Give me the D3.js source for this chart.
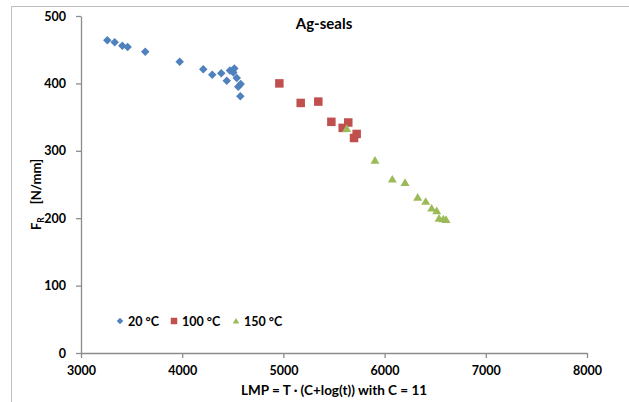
<!DOCTYPE html>
<html>
<head>
<meta charset="utf-8">
<script src="https://cdn.jsdelivr.net/npm/d3@7"></script>
<style>
  html, body { margin: 0; padding: 0; background: #fff; }
  svg text { font-family: Lato, "Open Sans", sans-serif; font-weight: bold; fill: #000; }
</style>
</head>
<body>
<svg id="chart" width="629" height="402"></svg>
<script>
// Residual load F_R against the Larson–Miller parameter, per test temperature
const lmp20  = [3260, 3333, 3408, 3461, 3635, 3975, 4208, 4297, 4386, 4440, 4472, 4505, 4515, 4539, 4578, 4554, 4574];
const fr20   = [464, 461, 456, 454, 447, 432, 421, 413, 415, 404, 419, 416, 422, 408, 399, 395, 381];
const lmp100 = [4960, 5171, 5345, 5474, 5586, 5641, 5698, 5724];
const fr100  = [400, 371, 373, 343, 334, 342, 319, 325];
const lmp150 = [5625, 5905, 6076, 6202, 6327, 6406, 6465, 6515, 6538, 6580, 6607];
const fr150  = [333, 286, 258, 253, 231, 225, 215, 211, 200, 199, 198];

const seriesNames = ["20 °C", "100 °C", "150 °C"];
const xTicks = [3000, 4000, 5000, 6000, 7000, 8000];
const yTicks = [0, 100, 200, 300, 400, 500];

const colors = ["#4F81BD", "#C0504D", "#9BBB59"];
const shapes = ["diamond", "square", "triangle"];

const svg = d3.select("#chart");
const W = 629, H = 402;
const plot = { left: 81, right: 587, top: 16, bottom: 353 };

svg.append("rect").attr("width", W).attr("height", H).attr("fill", "#fff");

// chart-area frame (left and top edges)
svg.append("path")
  .attr("d", `M11.5,${H} V6.5 H${W}`)
  .attr("fill", "none").attr("stroke", "#bdbdbd").attr("stroke-width", 1);

const x = d3.scaleLinear().domain([3000, 8000]).range([plot.left, plot.right]);
const y = d3.scaleLinear().domain([0, 500]).range([plot.bottom, plot.top]);

const axisColor = "#8c8c8c";

const gx = svg.append("g").attr("transform", `translate(0,${plot.bottom})`)
  .call(d3.axisBottom(x).tickValues(xTicks).tickFormat(d3.format("d")).tickSize(5).tickPadding(8).tickSizeOuter(0));
const gy = svg.append("g").attr("transform", `translate(${plot.left},0)`)
  .call(d3.axisLeft(y).tickValues(yTicks).tickFormat(d3.format("d")).tickSize(5).tickPadding(10).tickSizeOuter(0));

[gx, gy].forEach(g => {
  g.select(".domain").attr("stroke", axisColor).attr("stroke-width", 1.3);
  g.selectAll(".tick line").attr("stroke", axisColor).attr("stroke-width", 1.3);
  g.selectAll(".tick text").style("font-size", "12.5px").style("font-weight", "bold")
    .style("font-family", "Lato, sans-serif").attr("fill", "#000");
});

// marker outlines centred on (0,0), w = overall width in px
function markerPath(shape, w) {
  const h = w / 2;
  if (shape === "diamond") return `M0,${-h} L${h},0 L0,${h} L${-h},0 Z`;
  if (shape === "square") return `M${-h},${-h} H${h} V${h} H${-h} Z`;
  const th = w * 0.85;
  return `M0,${-th * 0.55} L${h},${th * 0.45} L${-h},${th * 0.45} Z`;
}

const series = [
  { xs: lmp20,  ys: fr20 },
  { xs: lmp100, ys: fr100 },
  { xs: lmp150, ys: fr150 }
];
const markerSize = [8.5, 8.5, 9];

series.forEach((s, i) => {
  svg.append("g").selectAll("path")
    .data(s.xs.map((v, k) => [v, s.ys[k]]))
    .join("path")
    .attr("d", markerPath(shapes[i], markerSize[i]))
    .attr("transform", d => `translate(${x(d[0])},${y(d[1])})`)
    .attr("fill", colors[i]);
});

// title
svg.append("text").attr("x", 324).attr("y", 29).attr("text-anchor", "middle")
  .style("font-size", "15px").text("Ag-seals");

// axis titles
svg.append("text").attr("x", (plot.left + plot.right) / 2).attr("y", 395)
  .attr("text-anchor", "middle").style("font-size", "13.5px")
  .text("LMP = T · (C+log(t)) with C = 11");

const yt = svg.append("text")
  .attr("transform", `translate(41,${(plot.top + plot.bottom) / 2 + 10}) rotate(-90)`)
  .attr("text-anchor", "middle").style("font-size", "13px");
yt.append("tspan").text("F");
yt.append("tspan").attr("dy", 3).style("font-size", "8.5px").text("R");
yt.append("tspan").attr("dy", -3).attr("dx", 13).text("[N/mm]");

// legend
const legendItems = [
  { mx: 120, tx: 128 },
  { mx: 174, tx: 182 },
  { mx: 236, tx: 244 }
];
const ly = 321;
legendItems.forEach((it, i) => {
  svg.append("path").attr("d", markerPath(shapes[i], 6.5))
    .attr("transform", `translate(${it.mx},${ly})`).attr("fill", colors[i]);
  svg.append("text").attr("x", it.tx).attr("y", ly + 4.5)
    .style("font-size", "12.5px").text(seriesNames[i]);
});
</script>
</body>
</html>
